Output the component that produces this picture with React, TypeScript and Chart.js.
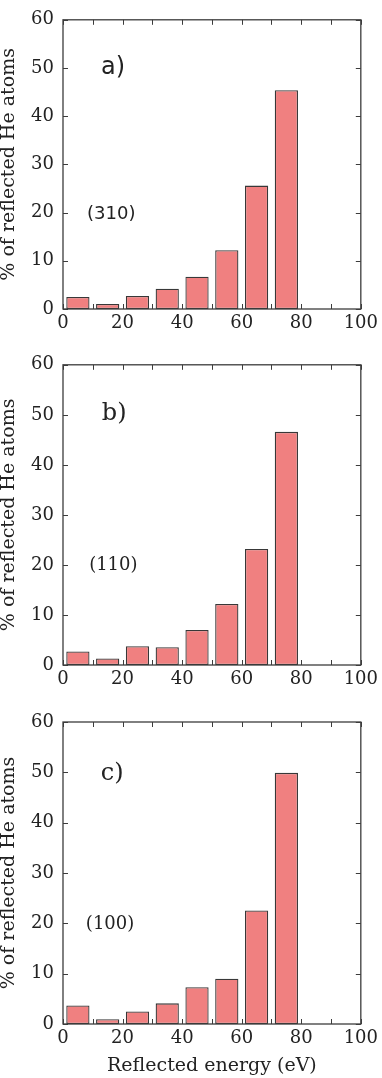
import React, { useEffect, useRef } from "react";
import { Chart, registerables } from "chart.js";

Chart.register(...registerables);

// ---- data ----
const energyBins = [5, 15, 25, 35, 45, 55, 65, 75];
const pct310 = [2.5, 1.05, 2.7, 4.2, 6.7, 12.2, 25.6, 45.4];
const pct110 = [2.7, 1.3, 3.75, 3.55, 7.0, 12.2, 23.2, 46.6];
const pct100 = [3.7, 0.93, 2.5, 4.1, 7.3, 9.0, 22.55, 49.9];
const xTickValues = [0, 20, 40, 60, 80, 100];
const yTickValues = [0, 10, 20, 30, 40, 50, 60];
const minorTickValues = [0, 10, 20, 30, 40, 50, 60, 70, 80, 90, 100];
const panelLetters = ["a)", "b)", "c)"];
const surfaceLabels = ["(310)", "(110)", "(100)"];
const yTitle = "% of reflected He atoms";
const xTitle = "Reflected energy (eV)";

const SERIF = '"DejaVu Serif", serif';
const SANS = '"DejaVu Sans", sans-serif';
const TEXT = "#222";
const FRAME = "#3c3c3c";

type PanelProps = {
  top: number;
  height: number;
  padTop: number;
  plotBottom: number;
  values: number[];
  letter: string;
  letterFont: string;
  letterAt: [number, number];
  surface: string;
  surfaceFont: string;
  surfaceAt: [number, number];
  showXTitle: boolean;
};

function Panel(p: PanelProps) {
  const ref = useRef<HTMLCanvasElement | null>(null);
  useEffect(() => {
    const frame = {
      id: "frame",
      afterDatasetsDraw(chart: any) {
        const { ctx, chartArea: a, scales } = chart;
        const xs = scales.x;
        const ys = scales.y;
        ctx.save();
        ctx.strokeStyle = FRAME;
        ctx.lineWidth = 1.3;
        ctx.strokeRect(a.left, a.top, a.right - a.left, a.bottom - a.top);
        const L = 5;
        ctx.beginPath();
        minorTickValues.forEach((v) => {
          const x = Math.round(xs.getPixelForValue(v)) + 0.5;
          ctx.moveTo(x, a.bottom);
          ctx.lineTo(x, a.bottom - L);
          ctx.moveTo(x, a.top);
          ctx.lineTo(x, a.top + L);
        });
        yTickValues.forEach((v) => {
          const y = Math.round(ys.getPixelForValue(v)) + 0.5;
          ctx.moveTo(a.left, y);
          ctx.lineTo(a.left + L, y);
          ctx.moveTo(a.right, y);
          ctx.lineTo(a.right - L, y);
        });
        ctx.lineWidth = 1;
        ctx.stroke();
        ctx.fillStyle = TEXT;
        ctx.textAlign = "center";
        ctx.textBaseline = "middle";
        ctx.font = p.letterFont;
        ctx.fillText(p.letter, xs.getPixelForValue(p.letterAt[0]), ys.getPixelForValue(p.letterAt[1]));
        ctx.font = p.surfaceFont;
        ctx.fillText(p.surface, xs.getPixelForValue(p.surfaceAt[0]), ys.getPixelForValue(p.surfaceAt[1]));
        ctx.restore();
      },
    };
    const xAxisHeight = p.height - p.plotBottom;
    const chart = new Chart(ref.current as HTMLCanvasElement, {
      type: "bar",
      data: {
        datasets: [
          {
            data: energyBins.map((x, i) => ({ x, y: p.values[i] })),
            backgroundColor: "#F08080",
            borderColor: "#383838",
            borderWidth: 1.3,
            borderSkipped: false,
            barPercentage: 0.78,
            categoryPercentage: 1,
          } as any,
        ],
      },
      options: {
        animation: false,
        responsive: false,
        events: [],
        layout: { autoPadding: false, padding: { top: p.padTop, right: 15, left: 0, bottom: 0 } },
        plugins: { legend: { display: false }, tooltip: { enabled: false } },
        scales: {
          x: {
            type: "linear",
            min: 0,
            max: 100,
            offset: false,
            grid: { display: false, drawTicks: false, offset: false },
            border: { display: false },
            afterBuildTicks: (s: any) => {
              s.ticks = xTickValues.map((v) => ({ value: v }));
            },
            afterFit: (s: any) => {
              s.height = xAxisHeight;
            },
            ticks: {
              color: TEXT,
              font: { family: SERIF, size: 18 },
              padding: 4,
              maxRotation: 0,
              autoSkip: false,
            },
            title: {
              display: p.showXTitle,
              text: xTitle,
              color: TEXT,
              font: { family: SERIF, size: 19, lineHeight: 1 },
              padding: { top: 0, bottom: 2 },
            },
          },
          y: {
            min: 0,
            max: 60,
            grid: { display: false, drawTicks: false },
            border: { display: false },
            afterBuildTicks: (s: any) => {
              s.ticks = yTickValues.map((v) => ({ value: v }));
            },
            afterFit: (s: any) => {
              s.width = 63;
            },
            ticks: {
              color: TEXT,
              font: { family: SERIF, size: 18 },
              padding: 9,
              autoSkip: false,
            },
            title: {
              display: true,
              text: yTitle,
              color: TEXT,
              font: { family: SERIF, size: 19, lineHeight: 1 },
              padding: { top: 0, bottom: 0 },
            },
          },
        },
      } as any,
      plugins: [frame],
    });
    return () => chart.destroy();
  }, []);
  return (
    <canvas
      ref={ref}
      width={382}
      height={p.height}
      style={{ position: "absolute", left: 0, top: p.top, width: 382, height: p.height, display: "block" }}
    />
  );
}

export default function App() {
  return (
    <div style={{ position: "absolute", left: 0, top: 0, width: 382, height: 1078, background: "#fff" }}>
      <Panel
        top={0}
        height={345}
        padTop={6}
        plotBottom={309}
        values={pct310}
        letter={panelLetters[0]}
        letterFont={`24px ${SANS}`}
        letterAt={[16.8, 50]}
        surface={surfaceLabels[0]}
        surfaceFont={`18px ${SANS}`}
        surfaceAt={[16.2, 19.7]}
        showXTitle={false}
      />
      <Panel
        top={345}
        height={345}
        padTop={17}
        plotBottom={320}
        values={pct110}
        letter={panelLetters[1]}
        letterFont={`24px ${SERIF}`}
        letterAt={[17.2, 50.2]}
        surface={surfaceLabels[1]}
        surfaceFont={`18px ${SERIF}`}
        surfaceAt={[16.9, 20]}
        showXTitle={false}
      />
      <Panel
        top={690}
        height={388}
        padTop={32}
        plotBottom={334}
        values={pct100}
        letter={panelLetters[2]}
        letterFont={`24px ${SERIF}`}
        letterAt={[16.5, 49.8]}
        surface={surfaceLabels[2]}
        surfaceFont={`18px ${SERIF}`}
        surfaceAt={[15.8, 19.9]}
        showXTitle={true}
      />
    </div>
  );
}
